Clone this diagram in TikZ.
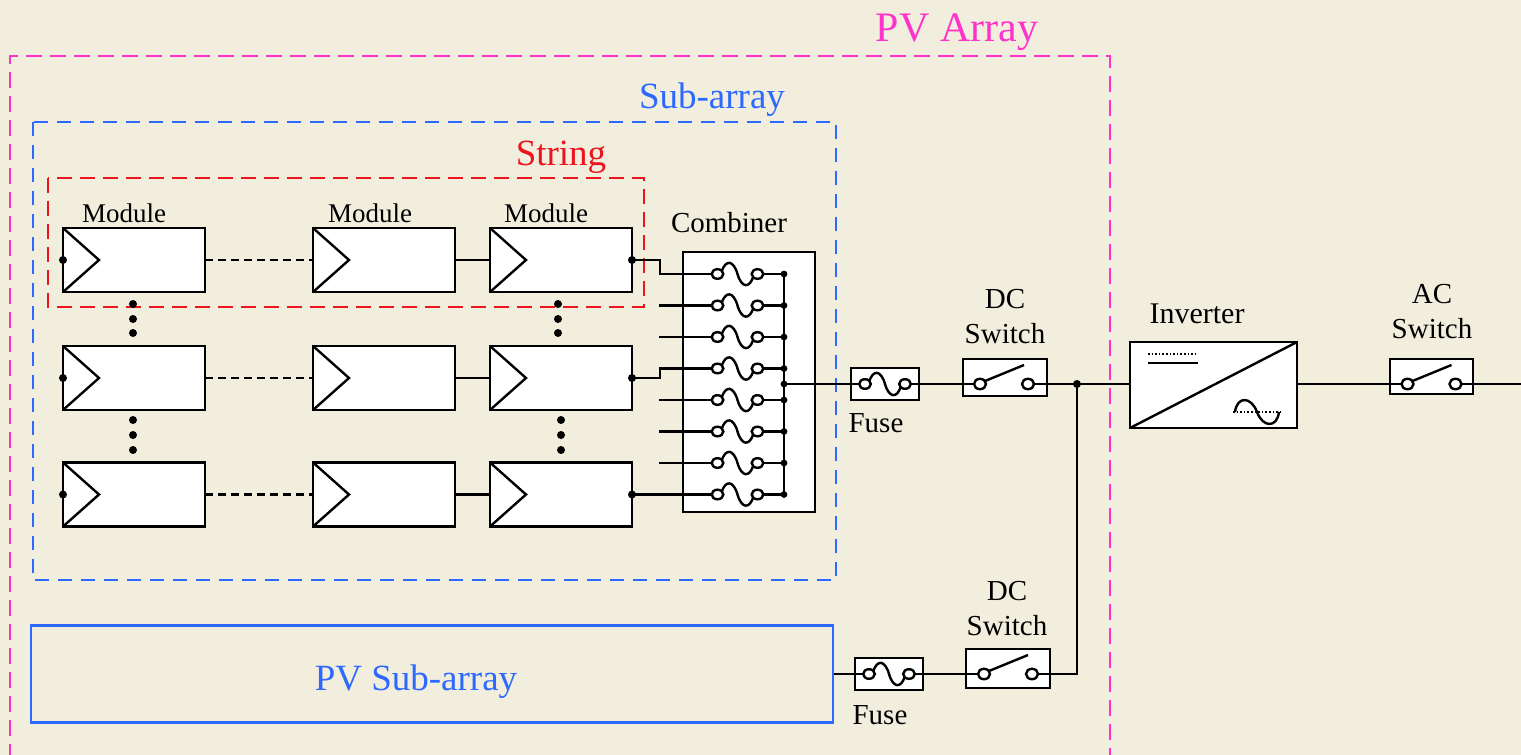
\documentclass[tikz,border=0pt]{standalone}
\usepackage{fontspec}
\setmainfont{Liberation Serif}
\definecolor{bg}{RGB}{242,238,222}
\definecolor{magC}{RGB}{255,51,204}
\definecolor{bluC}{RGB}{45,105,255}
\definecolor{redC}{RGB}{238,20,30}
\begin{document}
\begin{tikzpicture}[x=0.5pt,y=-0.5pt,
  wire/.style={line width=1.2pt,draw=black},
  box/.style={draw=black,line width=1.3pt,fill=white,inner sep=0pt,outer sep=0pt},
  module/.style={box,minimum width=71pt,minimum height=32pt},
  lbl/.style={inner sep=0pt,align=center,font=\fontsize{14.5}{17.5}\selectfont},
  modlbl/.style={inner sep=0pt,font=\fontsize{13.5}{16}\selectfont},
  bigl/.style={inner sep=0pt,font=\fontsize{18.5}{22}\selectfont},
  fusesym/.pic={
    \draw[wire] (-16,-2) .. controls (-12,-15) and (-4,-14) .. (0,0) .. controls (4,14) and (12,15) .. (16,2);
    \draw[wire,fill=white] (-20,0) ellipse [x radius=2.9pt, y radius=2.4pt];
    \draw[wire,fill=white] (20,0) ellipse [x radius=2.9pt, y radius=2.4pt];
  },
  switchsym/.pic={
    \draw[wire] (-19,-3) -- (20,-19);
    \draw[wire,fill=white] (-24,0) ellipse [x radius=3pt, y radius=2.6pt];
    \draw[wire,fill=white] (24,0) ellipse [x radius=3pt, y radius=2.6pt];
  }]
\useasboundingbox (0,0) rectangle (1521,755);
\fill[bg] (0,0) rectangle (1521,755);

% frames
\draw[magC,line width=1.2pt,dash pattern=on 8pt off 4pt] (10,760) -- (10,56) -- (1110,56) -- (1110,760);
\node[inner sep=0pt,text=magC,font=\fontsize{21}{25}\selectfont] (lpv) at (957,32) {PV Array};
\draw[bluC,line width=1.2pt,dash pattern=on 7pt off 4.5pt] (33,122) rectangle (836,580);
\node[bigl,text=bluC] (lsub) at (712,100) {Sub-array};
\draw[redC,line width=1.2pt,dash pattern=on 7.5pt off 4pt] (48,178) rectangle (644,307);
\node[bigl,text=redC] (lstr) at (561,157) {String};

% modules
\foreach \r/\y in {1/260,2/378,3/494.5} {
  \foreach \c/\x in {1/134,2/384,3/561} {
    \node[module] (m\r\c) at (\x,\y) {};
    \draw[wire,line join=miter] (m\r\c.north west) -- ([xshift=18pt]m\r\c.west) -- (m\r\c.south west);
  }
}
\node[modlbl] (lm1) at (124,213) {Module};
\node[modlbl] (lm2) at (370,213) {Module};
\node[modlbl] (lm3) at (546,213) {Module};

\foreach \r in {1,2,3} {
  \draw[wire,dash pattern=on 4pt off 2.5pt] (m\r1.east) -- (m\r2.west);
  \draw[wire] (m\r2.east) -- (m\r3.west);
  \fill (m\r1.west) circle[radius=2pt];
}

% vertical dots
\foreach \y in {304,319,333} { \fill (133,\y) circle[radius=2pt]; \fill (558,\y) circle[radius=2pt]; }
\foreach \y in {420,435,450} { \fill (133,\y) circle[radius=2pt]; \fill (561,\y) circle[radius=2pt]; }

% combiner
\node[box,minimum width=66pt,minimum height=130pt] (comb) at (749,382) {};
\node[lbl] (lcomb) at (729,223) {Combiner};
\foreach \i in {1,...,8} {
  \pgfmathsetmacro\yy{274+31.5*(\i-1)}
  \coordinate (ca\i) at (717.5,\yy);
  \coordinate (cb\i) at (757.5,\yy);
  \coordinate (bus\i) at (784,\yy);
  \coordinate (cs\i) at (659,\yy);
}
\foreach \i in {2,3,5,6,7} { \draw[wire] (cs\i) -- (ca\i); }
\coordinate (k1) at (660,274);
\coordinate (k4) at (660,368.5);
\draw[wire] (m13.east) -| (k1) -- (ca1);
\draw[wire] (m23.east) -| (k4) -- (ca4);
\draw[wire] (m33.east) -- (ca8);
\fill (m13.east) circle[radius=2pt];
\fill (m23.east) circle[radius=2pt];
\fill (m33.east) circle[radius=2pt];
\foreach \i in {1,...,8} { \draw[wire] (cb\i) -- (bus\i); }
\draw[wire] (bus1) -- (bus8);
\coordinate (cout) at (784,384);
\foreach \i in {1,...,8} {
  \pgfmathsetmacro\yy{274+31.5*(\i-1)}
  \pic at (737.5,\yy) {fusesym};
  \fill (bus\i) circle[radius=1.7pt];
}
\fill (cout) circle[radius=1.7pt];

% main path
\node[box,minimum width=34pt,minimum height=16pt] (f1) at (885,384) {};
\coordinate (f1a) at (865,384);
\coordinate (f1b) at (905,384);
\node[lbl] (lf1) at (876,423) {Fuse};
\node[box,minimum width=42pt,minimum height=18.5pt] (s1) at (1005,377.5) {};
\coordinate (s1a) at (980,384);
\coordinate (s1b) at (1028,384);
\node[lbl] (ls1) at (1005,317) {DC\\Switch};
\coordinate (j) at (1077,384);
\node[box,minimum width=83.5pt,minimum height=43pt] (inv) at (1213.5,385) {};
\node[lbl,font=\fontsize{15}{18}\selectfont] (linv) at (1197,314) {Inverter};
\node[box,minimum width=41.5pt,minimum height=17.5pt] (s3) at (1431.5,376.5) {};
\coordinate (s3a) at (1407.5,384);
\coordinate (s3b) at (1455.5,384);
\node[lbl] (ls3) at (1432,312) {AC\\Switch};
\coordinate (acend) at (1525,384);

\draw[wire] (cout) -- (f1a);
\draw[wire] (f1b) -- (s1a);
\draw[wire] (s1b) -- (j) -- (j -| inv.west);
\draw[wire] (j -| inv.east) -- (s3a);
\draw[wire] (s3b) -- (acend);
\pic at (885,384) {fusesym};
\pic at (1004,384) {switchsym};
\pic at (1431.5,384) {switchsym};

% inverter symbols
\draw[wire] (inv.south west) -- (inv.north east);
\draw[line width=0.8pt,dash pattern=on 0.8pt off 1pt] (1148,354) -- (1198,354);
\draw[wire] (1148,363) -- (1198,363);
\draw[line width=0.8pt,dash pattern=on 0.8pt off 1pt] (1233,412) -- (1283,412);
\draw[wire] (1235,412) .. controls (1237,396) and (1251,396) .. (1257,412) .. controls (1263,428) and (1277,428) .. (1279,412);

% lower branch
\node[draw=bluC,line width=1.2pt,minimum width=401pt,minimum height=48.5pt,inner sep=0pt] (psa) at (432,674) {};
\node[bigl,text=bluC] (lpsa) at (416,682) {PV Sub-array};
\node[box,minimum width=34pt,minimum height=16pt] (f2) at (889,674) {};
\coordinate (f2a) at (869,674);
\coordinate (f2b) at (909,674);
\node[lbl] (lf2) at (880,715) {Fuse};
\node[box,minimum width=42pt,minimum height=19.5pt] (s2) at (1008,668.5) {};
\coordinate (s2a) at (984,674);
\coordinate (s2b) at (1032,674);
\node[lbl] (ls2) at (1007,609) {DC\\Switch};
\coordinate (jb) at (1077,674);
\draw[wire] (psa.east) -- (f2a);
\draw[wire] (f2b) -- (s2a);
\draw[wire] (s2b) -- (jb) -- (j);
\pic at (889,674) {fusesym};
\pic at (1008,674) {switchsym};
\fill (j) circle[radius=2pt];
\end{tikzpicture}
\end{document}
